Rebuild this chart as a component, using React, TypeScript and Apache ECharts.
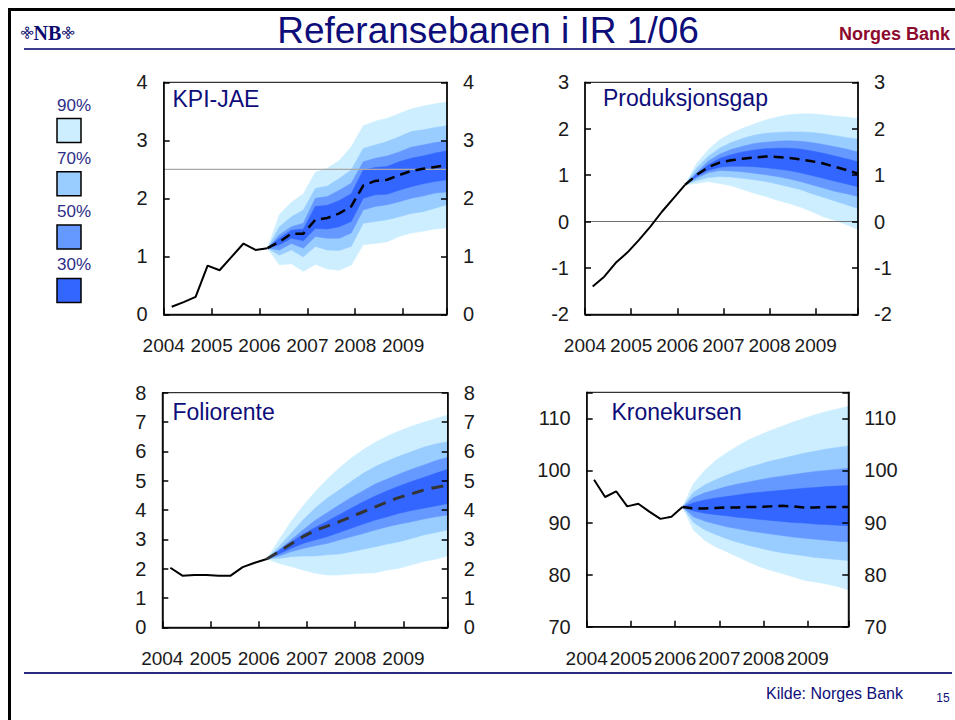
import React, { useEffect, useRef } from 'react';
import * as echarts from 'echarts';

// ---------- DATA ----------
const quarters = [
  '2004Q1', '2004Q2', '2004Q3', '2004Q4', '2005Q1', '2005Q2', '2005Q3', '2005Q4',
  '2006Q1', '2006Q2', '2006Q3', '2006Q4', '2007Q1', '2007Q2', '2007Q3', '2007Q4',
  '2008Q1', '2008Q2', '2008Q3', '2008Q4', '2009Q1', '2009Q2', '2009Q3', '2009Q4',
];
const yearTicks = [2004, 2005, 2006, 2007, 2008, 2009];
const legendLabels = ['90%', '70%', '50%', '30%'];
const inflationTarget = 2.5;
const zeroLine = 0;

// KPI-JAE
const kpiHist = [0.13, 0.21, 0.30, 0.84, 0.76, 0.99, 1.22, 1.11, 1.14];
const kpiMed = [1.14, 1.25, 1.39, 1.39, 1.63, 1.66, 1.74, 1.86, 2.22, 2.30, 2.32, 2.40, 2.47, 2.51, 2.54, 2.57];
const kpiHi90 = [1.14, 1.72, 1.93, 2.08, 2.45, 2.52, 2.65, 2.89, 3.25, 3.33, 3.38, 3.46, 3.54, 3.59, 3.63, 3.66];
const kpiHi70 = [1.14, 1.51, 1.68, 1.80, 2.17, 2.21, 2.34, 2.49, 2.86, 2.92, 2.98, 3.06, 3.15, 3.18, 3.22, 3.25];
const kpiHi50 = [1.14, 1.37, 1.51, 1.57, 2.00, 2.03, 2.14, 2.26, 2.63, 2.69, 2.73, 2.80, 2.88, 2.92, 2.96, 2.99];
const kpiHi30 = [1.14, 1.31, 1.45, 1.47, 1.86, 1.88, 1.96, 2.08, 2.49, 2.53, 2.55, 2.63, 2.69, 2.73, 2.78, 2.82];
const kpiLo30 = [1.14, 1.20, 1.31, 1.27, 1.48, 1.47, 1.51, 1.60, 2.00, 2.06, 2.07, 2.14, 2.20, 2.25, 2.29, 2.32];
const kpiLo50 = [1.14, 1.11, 1.22, 1.14, 1.34, 1.31, 1.31, 1.40, 1.80, 1.86, 1.89, 1.94, 2.00, 2.04, 2.09, 2.11];
const kpiLo70 = [1.14, 1.02, 1.11, 0.99, 1.17, 1.11, 1.10, 1.17, 1.57, 1.60, 1.63, 1.68, 1.74, 1.77, 1.83, 1.89];
const kpiLo90 = [1.14, 0.85, 0.87, 0.74, 0.86, 0.78, 0.76, 0.85, 1.20, 1.22, 1.25, 1.34, 1.40, 1.43, 1.47, 1.49];

// Produksjonsgap
const prodHist = [-1.40, -1.19, -0.89, -0.67, -0.40, -0.11, 0.21, 0.50, 0.79];
const prodMed = [0.79, 1.00, 1.17, 1.27, 1.32, 1.35, 1.38, 1.40, 1.39, 1.37, 1.34, 1.30, 1.25, 1.18, 1.11, 1.03];
const prodHi90 = [0.79, 1.25, 1.54, 1.76, 1.90, 2.01, 2.10, 2.19, 2.25, 2.30, 2.32, 2.32, 2.30, 2.27, 2.25, 2.22];
const prodHi70 = [0.79, 1.15, 1.40, 1.58, 1.70, 1.79, 1.86, 1.90, 1.92, 1.93, 1.93, 1.92, 1.89, 1.85, 1.81, 1.77];
const prodHi50 = [0.79, 1.05, 1.30, 1.45, 1.55, 1.62, 1.68, 1.71, 1.73, 1.74, 1.73, 1.70, 1.66, 1.61, 1.56, 1.50];
const prodHi30 = [0.79, 1.02, 1.22, 1.36, 1.44, 1.50, 1.54, 1.57, 1.58, 1.58, 1.56, 1.52, 1.47, 1.41, 1.35, 1.29];
const prodLo30 = [0.79, 0.97, 1.10, 1.17, 1.19, 1.19, 1.18, 1.16, 1.13, 1.10, 1.05, 0.99, 0.93, 0.87, 0.81, 0.75];
const prodLo50 = [0.79, 0.93, 1.05, 1.10, 1.09, 1.07, 1.04, 1.01, 0.97, 0.92, 0.86, 0.79, 0.72, 0.65, 0.60, 0.54];
const prodLo70 = [0.79, 0.88, 0.95, 0.97, 0.96, 0.93, 0.90, 0.86, 0.81, 0.75, 0.69, 0.60, 0.52, 0.44, 0.36, 0.28];
const prodLo90 = [0.79, 0.82, 0.86, 0.82, 0.77, 0.69, 0.61, 0.54, 0.46, 0.39, 0.31, 0.21, 0.10, 0.02, -0.07, -0.17];

// Foliorente
const folHist = [2.03, 1.76, 1.78, 1.78, 1.76, 1.76, 2.05, 2.20, 2.33];
const folMed = [2.33, 2.58, 2.84, 3.09, 3.30, 3.45, 3.60, 3.77, 3.94, 4.11, 4.28, 4.43, 4.55, 4.68, 4.77, 4.85];
const folHi90 = [2.33, 2.98, 3.60, 4.14, 4.62, 5.05, 5.43, 5.77, 6.06, 6.31, 6.52, 6.70, 6.86, 6.99, 7.12, 7.24];
const folHi70 = [2.33, 2.75, 3.20, 3.66, 4.06, 4.40, 4.68, 4.97, 5.25, 5.48, 5.67, 5.84, 5.99, 6.14, 6.25, 6.33];
const folHi50 = [2.33, 2.64, 2.98, 3.32, 3.64, 3.91, 4.17, 4.43, 4.66, 4.89, 5.06, 5.23, 5.39, 5.53, 5.68, 5.80];
const folHi30 = [2.33, 2.62, 2.90, 3.17, 3.40, 3.62, 3.84, 4.06, 4.28, 4.48, 4.66, 4.82, 4.97, 5.11, 5.25, 5.39];
const folLo30 = [2.33, 2.50, 2.69, 2.86, 2.98, 3.09, 3.23, 3.38, 3.52, 3.66, 3.77, 3.89, 3.98, 4.06, 4.14, 4.22];
const folLo50 = [2.33, 2.43, 2.58, 2.69, 2.78, 2.86, 2.98, 3.09, 3.20, 3.32, 3.43, 3.52, 3.60, 3.69, 3.77, 3.83];
const folLo70 = [2.33, 2.35, 2.41, 2.43, 2.43, 2.47, 2.50, 2.58, 2.66, 2.75, 2.84, 2.92, 3.03, 3.15, 3.23, 3.32];
const folLo90 = [2.33, 2.18, 2.07, 1.95, 1.84, 1.78, 1.78, 1.82, 1.84, 1.86, 1.95, 2.01, 2.13, 2.24, 2.32, 2.43];

// Kronekursen
const kroHist = [98.2, 94.9, 96.0, 93.1, 93.6, 92.1, 90.7, 91.1, 93.0];
const kroMed = [93.0, 92.7, 92.7, 92.8, 92.9, 92.9, 93.0, 93.0, 93.1, 93.2, 93.1, 92.9, 92.9, 93.0, 93.0, 93.0];
const kroHi90 = [93.0, 97.5, 100.0, 101.9, 103.4, 104.7, 105.9, 106.8, 107.7, 108.5, 109.3, 110.0, 110.7, 111.3, 111.8, 112.3];
const kroHi70 = [93.0, 95.8, 97.2, 98.2, 99.1, 99.9, 100.6, 101.2, 101.8, 102.3, 102.8, 103.3, 103.7, 104.1, 104.4, 104.7];
const kroHi50 = [93.0, 94.8, 95.7, 96.3, 96.9, 97.4, 97.8, 98.2, 98.6, 98.9, 99.2, 99.5, 99.8, 100.0, 100.2, 100.4];
const kroHi30 = [93.0, 93.8, 94.3, 94.7, 95.0, 95.3, 95.6, 95.8, 96.0, 96.2, 96.4, 96.6, 96.7, 96.9, 97.0, 97.1];
const kroLo30 = [93.0, 92.2, 91.8, 91.5, 91.3, 91.0, 90.8, 90.6, 90.4, 90.2, 90.0, 89.9, 89.7, 89.6, 89.5, 89.4];
const kroLo50 = [93.0, 91.1, 90.3, 89.7, 89.2, 88.8, 88.4, 88.1, 87.8, 87.5, 87.2, 87.0, 86.8, 86.6, 86.4, 86.3];
const kroLo70 = [93.0, 90.0, 88.6, 87.7, 86.9, 86.2, 85.6, 85.1, 84.6, 84.2, 83.9, 83.6, 83.3, 83.1, 82.9, 82.7];
const kroLo90 = [93.0, 88.5, 86.6, 85.3, 84.4, 83.4, 82.4, 81.5, 80.8, 80.2, 79.6, 78.9, 78.6, 78.2, 77.7, 77.1];

// ---------- STYLE ----------
const C90 = '#cceeff';
const C70 = '#99ccff';
const C50 = '#6699ff';
const C30 = '#3366ff';
const NAVY = '#0e0e7a';
const SANS = "'Liberation Sans', Arial, sans-serif";

// quarter -> x position on the year axis (mid-quarter month)
const qPos = (q: string) => {
  const y = parseInt(q.slice(0, 4), 10);
  const n = parseInt(q.slice(5), 10);
  return y + (n - 1) / 4 + 1 / 6;
};
const xAll = quarters.map(qPos);
const xHist = xAll.slice(0, 9);
const xFan = xAll.slice(8);
const XMIN = yearTicks[0];
const XMAX = xAll[xAll.length - 1];

type Band = number[];

function panelSeries(
  gi: number,
  hist: number[],
  med: number[],
  lo90: Band, lo70: Band, lo50: Band, lo30: Band,
  hi30: Band, hi50: Band, hi70: Band, hi90: Band,
  medColor: string,
  medWidth: number,
  medDash: number[],
  refLine?: number,
  refColor?: string,
) {
  const bands: [Band, Band, string][] = [
    [lo90, hi90, C90],
    [lo70, hi70, C70],
    [lo50, hi50, C50],
    [lo30, hi30, C30],
  ];
  const out: any[] = [
    {
      type: 'custom',
      xAxisIndex: gi,
      yAxisIndex: gi * 2,
      silent: true,
      z: 1,
      data: xFan.map((x, j) => [x, lo90[j], hi90[j]]),
      encode: { x: 0, y: [1, 2] },
      renderItem: (params: any, api: any) => {
        if (params.dataIndex !== 0) return null;
        const children = bands.map(([lo, hi, fill]) => {
          const top = xFan.map((x, j) => api.coord([x, hi[j]]));
          const bot = xFan.map((x, j) => api.coord([x, lo[j]])).reverse();
          return { type: 'polygon', shape: { points: top.concat(bot) }, style: { fill, stroke: fill, lineWidth: 0.5 } };
        });
        return { type: 'group', children };
      },
    },
  ];
  if (refLine !== undefined) {
    out.push({
      type: 'line',
      xAxisIndex: gi,
      yAxisIndex: gi * 2,
      data: [[XMIN, refLine], [XMAX, refLine]],
      symbol: 'none',
      silent: true,
      lineStyle: { color: refColor, width: 1.2 },
      z: 3,
    });
  }
  out.push({
    type: 'line',
    xAxisIndex: gi,
    yAxisIndex: gi * 2,
    data: xHist.map((x, j) => [x, hist[j]]),
    symbol: 'none',
    silent: true,
    lineStyle: { color: '#000', width: 2 },
    z: 5,
  });
  out.push({
    type: 'line',
    xAxisIndex: gi,
    yAxisIndex: gi * 2,
    data: xFan.map((x, j) => [x, med[j]]),
    symbol: 'none',
    silent: true,
    lineStyle: { color: medColor, width: medWidth, type: medDash },
    z: 5,
  });
  return out;
}

const axisLine = { show: true, onZero: false, lineStyle: { color: '#000', width: 1.5 } };
const axisTick = { show: true, inside: true, length: 6, lineStyle: { color: '#000', width: 1.5 } };

function mkX(gi: number) {
  return {
    type: 'value',
    gridIndex: gi,
    min: XMIN,
    max: XMAX,
    interval: 1,
    z: 10,
    axisLine,
    axisTick,
    splitLine: { show: false },
    axisLabel: {
      margin: 22,
      fontSize: 19,
      fontFamily: SANS,
      color: '#1a1a1a',
      showMinLabel: true,
      formatter: (v: number) => (yearTicks.includes(v) ? String(v) : ''),
    },
  };
}

function mkY(gi: number, min: number, max: number, interval: number, pos: string, labelMax: number) {
  return {
    type: 'value',
    gridIndex: gi,
    position: pos,
    min,
    max,
    interval,
    z: 10,
    axisLine,
    axisTick,
    splitLine: { show: false },
    axisLabel: {
      margin: 16,
      fontSize: 20,
      fontFamily: SANS,
      color: '#1a1a1a',
      formatter: (v: number) => (v > labelMax ? '' : String(v)),
    },
  };
}

const grids = [
  { left: 163.7, top: 82.3, width: 283.3, height: 232 },
  { left: 585, top: 82.3, width: 273, height: 232 },
  { left: 162.3, top: 392.7, width: 285.4, height: 234.6 },
  { left: 586.7, top: 392.3, width: 261.6, height: 234.4 },
];

const panelTitles = [
  { text: 'KPI-JAE', x: 172.5, y: 99 },
  { text: 'Produksjonsgap', x: 603, y: 98 },
  { text: 'Foliorente', x: 172.5, y: 411.5 },
  { text: 'Kronekursen', x: 611.5, y: 412 },
];

export default function App() {
  const ref = useRef<HTMLDivElement>(null);
  useEffect(() => {
    if (!ref.current) return;
    const chart = echarts.init(ref.current, undefined, { renderer: 'svg' });

    const legendColors = [C90, C70, C50, C30];
    const legendEls: any[] = [];
    legendLabels.forEach((lab, k) => {
      const base = 105 + k * 53.3;
      legendEls.push({
        type: 'text',
        x: 74,
        y: base,
        style: { text: lab, fontSize: 17, fontFamily: SANS, fill: '#2e2e88', align: 'center', verticalAlign: 'middle' },
      });
      legendEls.push({
        type: 'rect',
        shape: { x: 57, y: base + 13.5, width: 24, height: 24 },
        style: { fill: legendColors[k], stroke: '#000', lineWidth: 1.5 },
      });
    });

    const graphic: any[] = [
      // frame
      { type: 'rect', shape: { x: 9.5, y: 9.5, width: 2000, height: 2000 }, style: { fill: 'none', stroke: '#000', lineWidth: 3 } },
      // logo
      { type: 'text', x: 47.5, y: 33, style: { text: 'NB', fontSize: 20, fontWeight: 'bold', fontFamily: "'Liberation Serif', 'DejaVu Serif', serif", fill: '#0a0a6e', align: 'center', verticalAlign: 'middle' } },
      { type: 'text', x: 27.5, y: 33, rotation: Math.PI / 4, style: { text: '⌘', fontSize: 13, fontFamily: "'DejaVu Sans', sans-serif", fill: '#0a0a6e', align: 'center', verticalAlign: 'middle' } },
      { type: 'text', x: 68.5, y: 33, rotation: Math.PI / 4, style: { text: '⌘', fontSize: 13, fontFamily: "'DejaVu Sans', sans-serif", fill: '#0a0a6e', align: 'center', verticalAlign: 'middle' } },
      // title
      { type: 'text', x: 488, y: 30.5, style: { text: 'Referansebanen i IR 1/06', fontSize: 37, fontFamily: SANS, fill: NAVY, align: 'center', verticalAlign: 'middle' } },
      { type: 'text', x: 950, y: 34, style: { text: 'Norges Bank', fontSize: 18, fontWeight: 'bold', fontFamily: SANS, fill: '#8c0a2e', align: 'right', verticalAlign: 'middle' } },
      // header & footer lines
      { type: 'line', shape: { x1: 24, y1: 49, x2: 955, y2: 49 }, style: { stroke: '#3d3d8f', lineWidth: 2 } },
      { type: 'line', shape: { x1: 24, y1: 673, x2: 952, y2: 673 }, style: { stroke: '#2a2a80', lineWidth: 2 } },
      // footer texts
      { type: 'text', x: 903, y: 693, style: { text: 'Kilde: Norges Bank', fontSize: 16, fontFamily: SANS, fill: NAVY, align: 'right', verticalAlign: 'middle' } },
      { type: 'text', x: 943, y: 697.5, style: { text: '15', fontSize: 12, fontFamily: SANS, fill: NAVY, align: 'center', verticalAlign: 'middle' } },
      ...panelTitles.map((p) => ({
        type: 'text',
        x: p.x,
        y: p.y,
        z: 10,
        style: { text: p.text, fontSize: 23, fontFamily: SANS, fill: NAVY, align: 'left', verticalAlign: 'middle' },
      })),
      ...legendEls,
    ];

    const option: any = {
      animation: false,
      grid: grids.map((g) => ({ ...g, show: true, borderColor: '#000', borderWidth: 1, backgroundColor: 'transparent', containLabel: false, z: 10 })),
      xAxis: [mkX(0), mkX(1), mkX(2), mkX(3)],
      yAxis: [
        mkY(0, 0, 4, 1, 'left', 4), mkY(0, 0, 4, 1, 'right', 4),
        mkY(1, -2, 3, 1, 'left', 3), mkY(1, -2, 3, 1, 'right', 3),
        mkY(2, 0, 8, 1, 'left', 8), mkY(2, 0, 8, 1, 'right', 8),
        mkY(3, 70, 115, 10, 'left', 110), mkY(3, 70, 115, 10, 'right', 110),
      ],
      series: [
        ...panelSeries(0, kpiHist, kpiMed, kpiLo90, kpiLo70, kpiLo50, kpiLo30, kpiHi30, kpiHi50, kpiHi70, kpiHi90, '#000', 2.5, [10, 6], inflationTarget, '#a8a8a8'),
        ...panelSeries(1, prodHist, prodMed, prodLo90, prodLo70, prodLo50, prodLo30, prodHi30, prodHi50, prodHi70, prodHi90, '#000', 2.5, [10, 6], zeroLine, '#707070'),
        ...panelSeries(2, folHist, folMed, folLo90, folLo70, folLo50, folLo30, folHi30, folHi50, folHi70, folHi90, '#333333', 3, [12, 8]),
        ...panelSeries(3, kroHist, kroMed, kroLo90, kroLo70, kroLo50, kroLo30, kroHi30, kroHi50, kroHi70, kroHi90, '#000', 2.5, [10, 6]),
      ],
      graphic,
    };
    chart.setOption(option);
    return () => chart.dispose();
  }, []);

  return (
    <div
      ref={ref}
      style={{ position: 'fixed', left: 0, top: 0, width: 955, height: 720, background: '#fff', overflow: 'hidden' }}
    />
  );
}
